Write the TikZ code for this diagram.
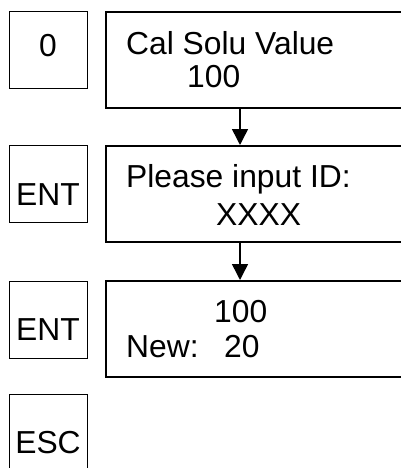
\documentclass[tikz,border=0pt]{standalone}
\usepackage{fontspec}
\setmainfont{Liberation Sans}
\usetikzlibrary{arrows.meta}
\newcommand{\lcd}{\fontsize{31.8}{36}\selectfont}

\begin{document}
\begin{tikzpicture}[x=1pt,y=-1pt,
   keybox/.style={draw, line width=1pt, minimum width=78.5pt, minimum height=77pt,
                  inner sep=0pt, anchor=north west},
   dispbox/.style={draw, line width=2pt, minimum width=310pt, minimum height=96pt,
                  inner sep=0pt, anchor=north west},
   keytxt/.style={font=\lcd, inner sep=0pt, anchor=base},
   disptxt/.style={font=\lcd, inner sep=0pt, anchor=base west},
   flow/.style={line width=1.5pt, -{Triangle[width=16pt,length=16pt]}}]
   \useasboundingbox (0,0) rectangle (401,468);
   \clip (0,0) rectangle (401,468);
   % keys
   \node[keybox] (k0)   at (  8.5, 11) {};
   \node[keybox] (ent1) at (  8.5,145) {};
   \node[keybox] (ent2) at (  8.5,281) {};
   \node[keybox] (esc)  at (  8.5,394) {};
   \node[keytxt] (k0t)   at ( 48, 57) {0};
   \node[keytxt] (ent1t) at ( 48,205) {ENT};
   \node[keytxt] (ent2t) at ( 48,340) {ENT};
   \node[keytxt] (esct)  at ( 48,453) {ESC};
   % displays
   \node[dispbox] (d1) at (105, 11) {};
   \node[dispbox] (d2) at (105,145) {};
   \node[dispbox] (d3) at (105,280) {};
   \node[disptxt] (d1a) at (126, 55) {Cal Solu Value};
   \node[disptxt] (d1b) at (187, 88) {100};
   \node[disptxt] (d2a) at (126,187) {Please input ID:};
   \node[disptxt] (d2b) at (216,225) {XXXX};
   \node[disptxt] (d3a) at (214,322) {100};
   \node[disptxt] (d3b) at (126,357) {New:};
   \node[disptxt] (d3c) at (224,357) {20};
   % arrows
   \draw[flow] ([xshift=135pt]d1.south west) -- ([xshift=135pt]d2.north west);
   \draw[flow] ([xshift=135pt]d2.south west) -- ([xshift=135pt]d3.north west);
\end{tikzpicture}
\end{document}
